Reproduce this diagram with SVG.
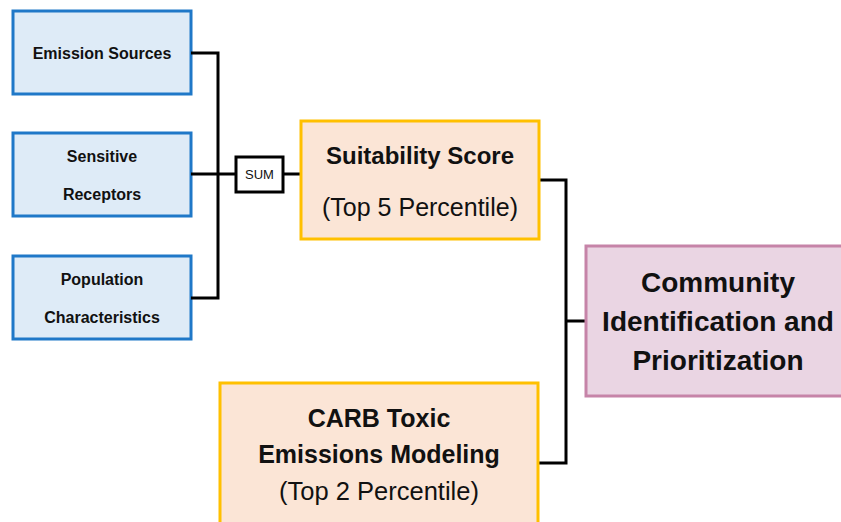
<svg xmlns="http://www.w3.org/2000/svg" width="841" height="522" viewBox="0 0 841 522">
<style>
.in rect{fill:#DEEBF7;stroke:#1F78C8;stroke-width:3}
.or rect{fill:#FBE5D6;stroke:#FFC000;stroke-width:3}
.cm rect{fill:#EAD5E3;stroke:#C684A8;stroke-width:3}
text{font-family:"Liberation Sans",Arial,sans-serif;fill:#111;text-anchor:middle}
.b{font-weight:bold}
.conn{fill:none;stroke:#000;stroke-width:3}
</style>
<rect width="841" height="522" fill="#fff"/>
<g id="emission" class="in"><rect x="13" y="11" width="178" height="83"/><text class="b" x="102" y="59" font-size="16">Emission Sources</text></g>
<g id="receptors" class="in"><rect x="13" y="133" width="178" height="83"/><text class="b" x="102" y="162" font-size="16">Sensitive</text><text class="b" x="102" y="200" font-size="16">Receptors</text></g>
<g id="population" class="in"><rect x="13" y="256" width="178" height="83"/><text class="b" x="102" y="285" font-size="16">Population</text><text class="b" x="102" y="323" font-size="16">Characteristics</text></g>
<g id="connectors">
<path class="conn" d="M191 53H218V298H191M191 174H236M283 174H301M539 180H566V463H538M566 321H586"/>
</g>
<g id="sum"><rect x="236" y="157" width="47" height="35" fill="#fff" stroke="#000" stroke-width="3"/><text x="259.5" y="179" font-size="13">SUM</text></g>
<g id="suitability" class="or"><rect x="301" y="121" width="238" height="118"/><text class="b" x="420" y="164" font-size="24">Suitability Score</text><text x="420" y="216" font-size="25">(Top 5 Percentile)</text></g>
<g id="community" class="cm"><rect x="586" y="246" width="270" height="150"/><text class="b" x="718" y="292" font-size="28">Community</text><text class="b" x="718" y="331" font-size="28">Identification and</text><text class="b" x="718" y="370" font-size="28">Prioritization</text></g>
<g id="carb" class="or"><rect x="220" y="383" width="318" height="150"/><text class="b" x="379" y="427" font-size="25">CARB Toxic</text><text class="b" x="379" y="463" font-size="25">Emissions Modeling</text><text x="379" y="500" font-size="25.5">(Top 2 Percentile)</text></g>
</svg>
